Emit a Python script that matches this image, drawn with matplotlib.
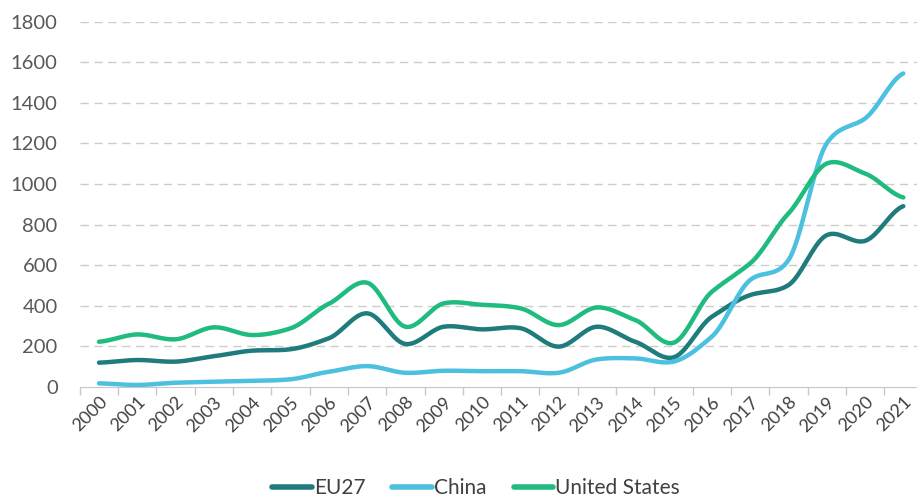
import matplotlib
matplotlib.use("Agg")
import matplotlib.pyplot as plt
import numpy as np

years = [str(y) for y in range(2000, 2022)]
eu27 = [120, 133, 125, 152, 179, 186, 240, 363, 212, 297, 284, 290, 199, 297, 223, 146, 346, 453, 502, 748, 720, 891]
china = [18, 10, 21, 26, 30, 38, 75, 103, 70, 80, 78, 78, 70, 136, 141, 125, 248, 527, 625, 1200, 1323, 1545]
usa = [223, 259, 235, 294, 256, 289, 410, 514, 297, 412, 405, 388, 305, 392, 330, 218, 469, 609, 855, 1101, 1052, 934]

series = [("EU27", eu27, "#1f7b7c"), ("China", china, "#4cc0df"), ("United States", usa, "#1fbb7f")]

def smooth(y, n=20):
    y = np.asarray(y, float)
    x = np.arange(len(y), dtype=float)
    p = np.concatenate([[y[0]], y, [y[-1]]])
    xs, ys = [], []
    for i in range(len(y) - 1):
        p0, p1, p2, p3 = p[i], p[i + 1], p[i + 2], p[i + 3]
        t = np.linspace(0, 1, n, endpoint=False)
        m1 = (p2 - p0) / 2 * 0.8
        m2 = (p3 - p1) / 2 * 0.8
        h00 = 2 * t**3 - 3 * t**2 + 1
        h10 = t**3 - 2 * t**2 + t
        h01 = -2 * t**3 + 3 * t**2
        h11 = t**3 - t**2
        ys.append(h00 * p1 + h10 * m1 + h01 * p2 + h11 * m2)
        xs.append(x[i] + t)
    xs.append([x[-1]]); ys.append([y[-1]])
    return np.concatenate(xs), np.concatenate(ys)

plt.rcParams['font.family'] = ['Lato', 'DejaVu Sans']
W, H = 917, 499
fig = plt.figure(figsize=(W / 100, H / 100), dpi=100)
left = 79.85 / W
width = 22 * 38.3 / W
bottom = 112 / H
height = 365.3 / H
ax = fig.add_axes([left, bottom, width, height])

for name, vals, col in series:
    xs, ys = smooth(vals)
    ax.plot(xs, ys, color=col, lw=3.2, label=name, solid_capstyle='round')

ax.set_xlim(-0.5, len(years) - 0.5)
ax.set_ylim(0, 1800)
ax.set_yticks(range(0, 1801, 200))
ax.set_yticklabels([str(v) for v in range(0, 1801, 200)], fontsize=14.5, color="#595959")
for v in range(200, 1801, 200):
    ax.axhline(v, color="#cccccc", lw=1.0, ls=(0, (6, 4)), zorder=0)

ax.set_xticks(np.arange(len(years)))
ax.set_xticklabels(years, rotation=45, ha='right', va='top', rotation_mode='anchor',
                   fontsize=13, color="#404040")
ax.tick_params(axis='x', length=0, pad=5)
ax.set_xticks(np.arange(len(years) + 1) - 0.5, minor=True)
ax.tick_params(axis='x', which='minor', length=6, color="#c8c8c8", width=1)
ax.tick_params(axis='y', length=0, pad=16)

for s in ['top', 'right', 'left']:
    ax.spines[s].set_visible(False)
ax.spines['bottom'].set_color("#c8c8c8")

leg = fig.legend(loc='center', bbox_to_anchor=(476 / W, 1 - 488 / H), ncol=3, frameon=False,
                 fontsize=15, handlelength=1.9, handletextpad=0.1, columnspacing=1.3)
for t in leg.get_texts():
    t.set_color("#404040")
for l in leg.get_lines():
    l.set_linewidth(4)

fig.savefig("out.png", dpi=100)
